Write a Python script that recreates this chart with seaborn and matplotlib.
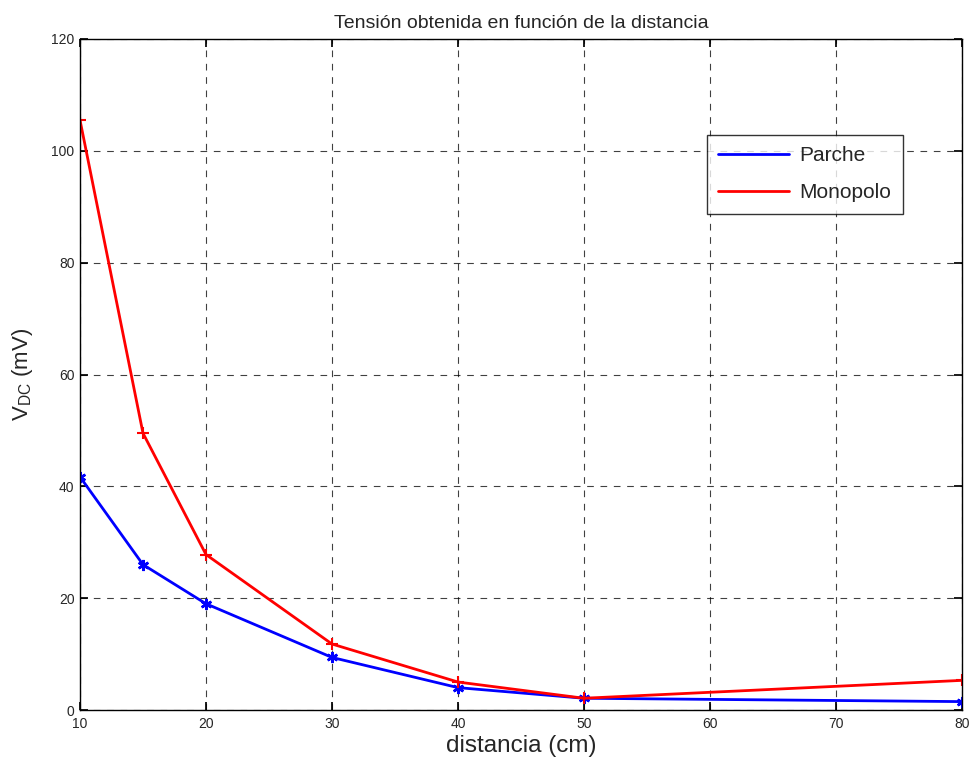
import seaborn as sns
import pandas as pd
import numpy as np
import matplotlib.pyplot as plt
from matplotlib.lines import Line2D

# Data
distancia = [10, 15, 20, 30, 40, 50, 80]
parche = [41.7, 26.0, 19.0, 9.4, 4.0, 2.1, 1.5]
monopolo = [105.5, 49.5, 27.8, 11.8, 5.0, 2.1, 5.3]

df = pd.DataFrame({'distancia': distancia, 'Parche': parche, 'Monopolo': monopolo})

sns.set_theme(style='white')
plt.rcParams['font.family'] = ['Liberation Sans', 'DejaVu Sans']

fig = plt.figure(figsize=(9.69, 7.58), dpi=100)
ax = fig.add_axes([80 / 969, 48 / 758, 882 / 969, 671 / 758])

sns.lineplot(data=df, x='distancia', y='Parche', color='#0000ff', lw=2,
             marker=(6, 2, 0), markersize=8, mew=1.8, mec='#0000ff', ax=ax)
sns.lineplot(data=df, x='distancia', y='Monopolo', color='#ff0000', lw=2,
             marker='+', markersize=9, mew=1.5, mec='#ff0000', ax=ax)

ax.set_xlim(10, 80)
ax.set_ylim(0, 120)
ax.set_xticks([10, 20, 30, 40, 50, 60, 70, 80])
ax.set_yticks([0, 20, 40, 60, 80, 100, 120])
ax.grid(True, color='black', linestyle=(0, (6, 6)), lw=0.8, alpha=0.75)
ax.tick_params(direction='in', length=6, top=True, right=True, labelsize=10,
               bottom=True, left=True, color='black')
ax.tick_params(axis='x', pad=5)
ax.tick_params(axis='y', pad=4)
for s in ax.spines.values():
    s.set_color('black')
    s.set_linewidth(1.0)

ax.set_xlabel('distancia (cm)', fontsize=17.5, labelpad=3)
ax.set_ylabel('V$_{\\mathregular{DC}}$ (mV)', fontsize=16, labelpad=12)
ax.set_title('Tensión obtenida en función de la distancia', fontsize=14, pad=8)

handles = [Line2D([], [], color='#0000ff', lw=2), Line2D([], [], color='#ff0000', lw=2)]
leg = ax.legend(handles, ['Parche', 'Monopolo'], loc='upper left',
                bbox_to_anchor=(707 / 969, 1 - 135 / 758), bbox_transform=fig.transFigure,
                fontsize=15, frameon=True, fancybox=False, borderpad=0.55,
                handlelength=3.4, labelspacing=0.85, handletextpad=0.5,
                borderaxespad=0)
leg.get_frame().set_edgecolor('black')
leg.get_frame().set_linewidth(1.0)

fig.savefig('out.png', dpi=100)
